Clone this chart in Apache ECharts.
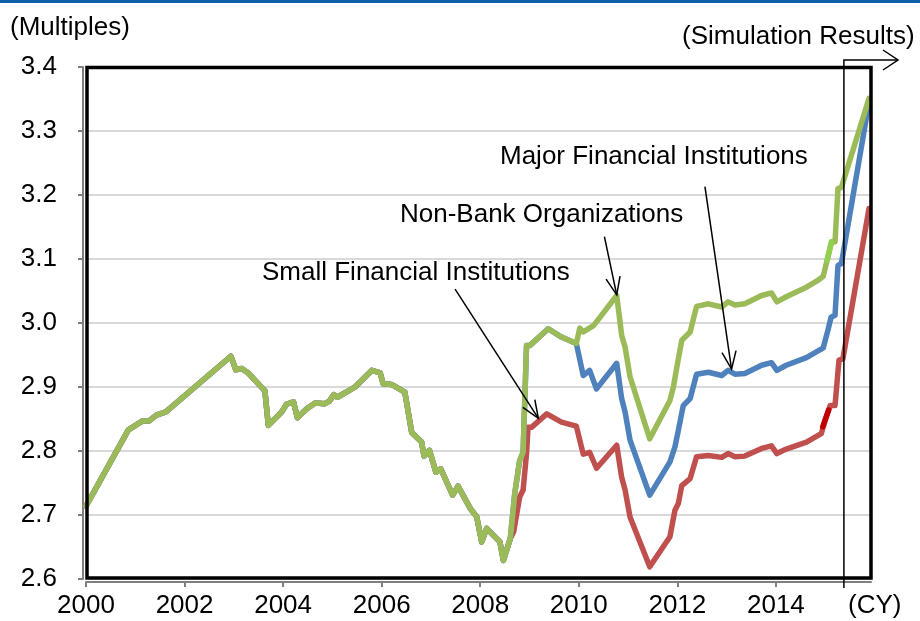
<!DOCTYPE html>
<html>
<head>
<meta charset="utf-8">
<script src="https://cdn.jsdelivr.net/npm/echarts@6/dist/echarts.min.js"></script>
<style>
  html, body { margin: 0; padding: 0; background: #ffffff; }
  #chart { width: 920px; height: 621px; }
</style>
</head>
<body>
<div id="chart"></div>
<script>
// Path shared by all three groups (2000 to the 2008 trough)
const sharedYears = [2000.00, 2000.86, 2001.15, 2001.28, 2001.43, 2001.62, 2002.94, 2003.04, 2003.16, 2003.29,
  2003.63, 2003.70, 2003.97, 2004.07, 2004.21, 2004.29, 2004.48, 2004.65, 2004.85, 2004.94,
  2005.03, 2005.10, 2005.26, 2005.46, 2005.80, 2005.97, 2006.03, 2006.20, 2006.47, 2006.61,
  2006.81, 2006.86, 2006.97, 2007.10, 2007.20, 2007.44, 2007.55, 2007.80, 2007.93, 2008.03,
  2008.13, 2008.40, 2008.47, 2008.61];
const sharedValues = [2.714, 2.833, 2.847, 2.847, 2.856, 2.861, 2.948, 2.927, 2.929, 2.922,
  2.894, 2.840, 2.861, 2.873, 2.877, 2.852, 2.866, 2.875, 2.874, 2.878,
  2.888, 2.884, 2.891, 2.900, 2.926, 2.922, 2.905, 2.904, 2.892, 2.829,
  2.814, 2.792, 2.801, 2.767, 2.772, 2.731, 2.745, 2.710, 2.697, 2.658,
  2.679, 2.658, 2.629, 2.663];

// Path shared by non-bank and major institutions (2008 to 2010)
const upperYears = [2008.70, 2008.80, 2008.87, 2008.94, 2009.01, 2009.38, 2009.65, 2009.95];
const upperValues = [2.733, 2.785, 2.798, 2.965, 2.965, 2.991, 2.978, 2.968];

// Non-Bank Organizations
const nonBankYears = [2010.02, 2010.09, 2010.30, 2010.77, 2010.87, 2010.94, 2011.04, 2011.44, 2011.85, 2011.92,
  2011.99, 2012.09, 2012.26, 2012.39, 2012.63, 2012.90, 2013.03, 2013.17, 2013.37, 2013.71,
  2013.91, 2014.02, 2014.21, 2014.62, 2014.86, 2014.96, 2015.13, 2015.20, 2015.26, 2015.33,
  2015.89];
const nonBankValues = [2.992, 2.986, 2.996, 3.043, 2.981, 2.962, 2.916, 2.819, 2.879, 2.900,
  2.931, 2.973, 2.986, 3.026, 3.030, 3.025, 3.033, 3.028, 3.030, 3.043,
  3.047, 3.033, 3.041, 3.056, 3.067, 3.073, 3.127, 3.127, 3.210, 3.212,
  3.351];

// Major Financial Institutions
const majorYears = [2010.09, 2010.22, 2010.36, 2010.77, 2010.87, 2010.94, 2011.04, 2011.44, 2011.85, 2011.95,
  2012.02, 2012.12, 2012.26, 2012.39, 2012.63, 2012.90, 2013.03, 2013.17, 2013.37, 2013.71,
  2013.91, 2014.02, 2014.21, 2014.62, 2014.96, 2015.06, 2015.12, 2015.20, 2015.26, 2015.33,
  2015.89];
const majorValues = [2.918, 2.926, 2.897, 2.937, 2.882, 2.861, 2.817, 2.731, 2.783, 2.806,
  2.832, 2.871, 2.882, 2.920, 2.923, 2.918, 2.926, 2.920, 2.921, 2.934,
  2.938, 2.926, 2.934, 2.946, 2.961, 2.990, 3.009, 3.012, 3.090, 3.093,
  3.345];

// Small Financial Institutions
const smallYears = [2008.68, 2008.80, 2008.87, 2008.94, 2008.97, 2009.04, 2009.35, 2009.65, 2009.95, 2010.09,
  2010.22, 2010.36, 2010.77, 2010.87, 2010.94, 2011.04, 2011.44, 2011.85, 2011.95, 2012.02,
  2012.09, 2012.26, 2012.39, 2012.63, 2012.90, 2013.03, 2013.17, 2013.37, 2013.71, 2013.91,
  2014.02, 2014.21, 2014.62, 2014.92, 2014.99, 2015.10, 2015.20, 2015.28, 2015.36, 2015.89];
const smallValues = [2.674, 2.728, 2.739, 2.796, 2.837, 2.837, 2.858, 2.845, 2.839, 2.795,
  2.798, 2.773, 2.809, 2.759, 2.739, 2.697, 2.619, 2.666, 2.707, 2.718,
  2.746, 2.757, 2.791, 2.793, 2.790, 2.796, 2.791, 2.792, 2.804, 2.808,
  2.796, 2.803, 2.814, 2.827, 2.845, 2.871, 2.871, 2.942, 2.944, 3.179];

// Short brighter stretches on the 2015 rise
const nonBankBrightYears = [2015.04, 2015.13];
const nonBankBrightValues = [3.098, 3.127];
const smallBrightYears = [2014.95, 2015.07];
const smallBrightValues = [2.838, 2.864];

const yTicks = ['2.6', '2.7', '2.8', '2.9', '3.0', '3.1', '3.2', '3.3', '3.4'];
const simulationStart = 2015.38;

const FONT = '"Liberation Sans", Arial, sans-serif';
const GREEN = '#9bbb59', BLUE = '#4f81bd', RED = '#c0504d';
const X_MIN = 2000, X_MAX = 2015.93, Y_MIN = 2.6, Y_MAX = 3.4;

function zip(xs, ys) { return xs.map((x, i) => [x, ys[i]]); }

const sharedPts = zip(sharedYears, sharedValues);
const upperPts = zip(upperYears, upperValues);

const nonBankData = sharedPts.concat(upperPts, zip(nonBankYears, nonBankValues));
const majorData = sharedPts.concat(upperPts, zip(majorYears, majorValues));
const smallData = sharedPts.concat(zip(smallYears, smallValues));

function lineSeries(name, data, color, z) {
  return {
    name, type: 'line', data, z,
    showSymbol: false, symbol: 'none', silent: true,
    lineStyle: { color, width: 5.5, cap: 'round', join: 'round' }
  };
}

const chart = echarts.init(document.getElementById('chart'), null, { renderer: 'canvas' });

chart.setOption({
  animation: false,
  backgroundColor: '#ffffff',
  textStyle: { fontFamily: FONT },
  grid: { left: 86, right: 49, top: 67, bottom: 42, show: false },
  xAxis: {
    type: 'value', min: X_MIN, max: X_MAX, interval: 2, offset: 3,
    axisLine: { show: true, onZero: false, lineStyle: { color: '#7f7f7f', width: 2 } },
    axisTick: { show: true, length: 5, lineStyle: { color: '#7f7f7f', width: 2 } },
    axisLabel: {
      margin: 11, fontSize: 26, color: '#000000', fontFamily: FONT,
      formatter: v => String(Math.round(v)), showMaxLabel: false
    },
    splitLine: { show: false }
  },
  yAxis: {
    type: 'value', min: Y_MIN, max: Y_MAX, interval: 0.1, offset: 3,
    axisLine: { show: true, onZero: false, lineStyle: { color: '#7f7f7f', width: 2 } },
    axisTick: { show: true, length: 5, lineStyle: { color: '#7f7f7f', width: 2 } },
    axisLabel: {
      margin: 26, fontSize: 26, color: '#000000', fontFamily: FONT,
      formatter: v => yTicks[Math.round((v - Y_MIN) * 10)]
    },
    splitLine: { show: true, lineStyle: { color: '#d9d9d9', width: 2 } }
  },
  series: [
    lineSeries('Small Financial Institutions', smallData, RED, 2),
    lineSeries('Major Financial Institutions', majorData, BLUE, 3),
    lineSeries('Non-Bank Organizations', nonBankData, GREEN, 4),
    lineSeries('small-bright', zip(smallBrightYears, smallBrightValues), '#c00000', 5),
    lineSeries('nonbank-bright', zip(nonBankBrightYears, nonBankBrightValues), '#92d050', 5)
  ]
});

// Annotations: arrows anchored in data space, labels laid out in pixels
const arrows = [
  { from: [2007.49, 3.053], to: [2009.18, 2.851] },
  { from: [2010.52, 3.135], to: [2010.77, 3.044] },
  { from: [2012.56, 3.213], to: [2013.10, 2.928] }
];
const labels = [
  { text: 'Major Financial Institutions', x: 500, y: 157 },
  { text: 'Non-Bank Organizations', x: 400, y: 215 },
  { text: 'Small Financial Institutions', x: 262, y: 273 },
  { text: '(Simulation Results)', x: 682, y: 37 },
  { text: '(Multiples)', x: 10, y: 28 },
  { text: '(CY)', x: 848, y: 606 }
];

function toPx(pt) { return chart.convertToPixel({ gridIndex: 0 }, pt); }

function arrowHead(tip, tail, len, deg) {
  const a = Math.atan2(tail[1] - tip[1], tail[0] - tip[0]);
  const r = deg * Math.PI / 180;
  return [
    [tip[0] + len * Math.cos(a + r), tip[1] + len * Math.sin(a + r)],
    tip,
    [tip[0] + len * Math.cos(a - r), tip[1] + len * Math.sin(a - r)]
  ];
}

const stroke = { stroke: '#000000', lineWidth: 1.5, fill: null };
const graphics = [];

graphics.push({ type: 'rect', shape: { x: 0, y: 0, width: 920, height: 3 }, style: { fill: '#0f5fa8' }, z: 100 });

// Heavy plot frame drawn over the grid lines
const tl = toPx([X_MIN, Y_MAX]), br = toPx([X_MAX, Y_MIN]);
graphics.push({
  type: 'rect', z: 90,
  shape: { x: tl[0] + 1, y: tl[1] + 0.5, width: br[0] - tl[0] - 1, height: br[1] - tl[1] - 1.5 },
  style: { stroke: '#000000', lineWidth: 3.5, fill: null }
});

arrows.forEach(a => {
  const p1 = toPx(a.from), p2 = toPx(a.to);
  graphics.push({ type: 'polyline', shape: { points: [p1, p2] }, style: stroke, z: 100 });
  graphics.push({ type: 'polyline', shape: { points: arrowHead(p2, p1, 19, 22) }, style: stroke, z: 100 });
});

// Simulation period marker: vertical rule with bracket arrow above the plot
const simX = toPx([simulationStart, 3.0])[0];
const topY = 60, botY = 588, endX = 898;
graphics.push({ type: 'polyline', shape: { points: [[simX, botY], [simX, topY], [endX, topY]] }, style: stroke, z: 100 });
graphics.push({ type: 'polyline', shape: { points: [[endX - 15, topY - 10], [endX, topY], [endX - 15, topY + 10]] }, style: stroke, z: 100 });

labels.forEach(l => {
  graphics.push({
    type: 'text', x: l.x, y: l.y, z: 101,
    style: { text: l.text, fill: '#000000', font: '26px ' + FONT, textAlign: 'left', textVerticalAlign: 'middle' }
  });
});

chart.setOption({ graphic: graphics });
</script>
</body>
</html>
